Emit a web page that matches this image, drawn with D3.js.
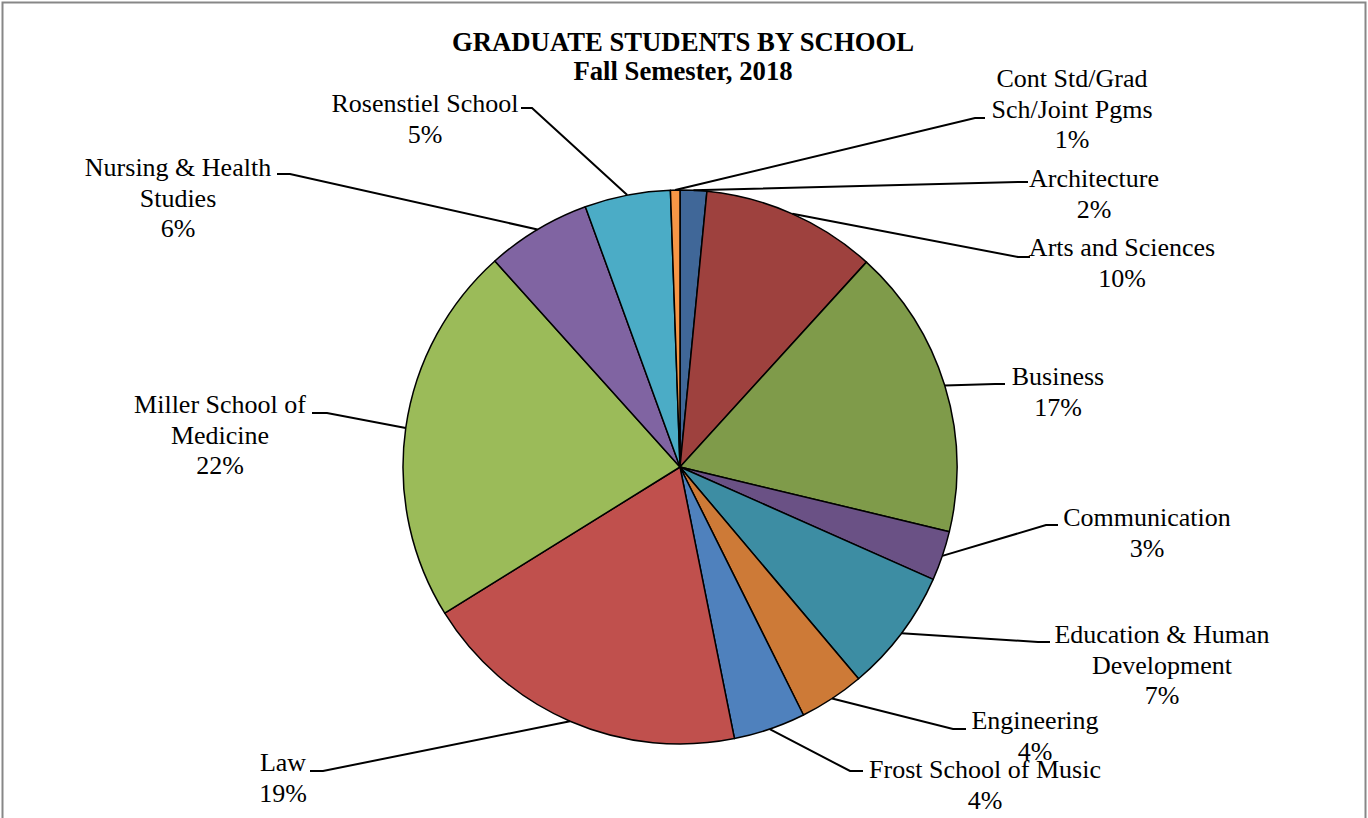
<!DOCTYPE html>
<html>
<head>
  <script src="https://d3js.org/d3.v7.min.js"></script>
  <style>
    body { margin: 0; background: #fff; }
    text { font-family: "Times New Roman", "Liberation Serif", serif; fill: #000; }
  </style>
</head>
<body>
<div id="vis"></div>

<script>
// data (share of graduate students, %)
const schools = ["Architecture", "Arts and Sciences", "Business", "Communication",
  "Education & Human Development", "Engineering", "Frost School of Music", "Law",
  "Miller School of Medicine", "Nursing & Health Studies", "Rosenstiel School",
  "Cont Std/Grad Sch/Joint Pgms"];
const shares = [1.55, 10.2, 17.0, 2.9, 7.2, 3.8, 4.2, 19.3, 22.2, 6.1, 5.0, 0.55];
const labelLines = [["Architecture"], ["Arts and Sciences"], ["Business"], ["Communication"],
  ["Education & Human", "Development"], ["Engineering"], ["Frost School of Music"], ["Law"],
  ["Miller School of", "Medicine"], ["Nursing & Health", "Studies"], ["Rosenstiel School"],
  ["Cont Std/Grad", "Sch/Joint Pgms"]];
const sliceColors = ["#406798", "#9e413e", "#7f9b4a", "#6a5185", "#3d8da3", "#cd7a37",
  "#4f81bd", "#c0504d", "#9bbb59", "#8064a2", "#4bacc6", "#f79646"];

// label placement: text centre, first baseline, end of the short horizontal leader, knee x
const labelLayout = [
  { cx: 1094, y: 187, sx: 1028, sy: 182, kx: 1018 },
  { cx: 1122, y: 256, sx: 1030, sy: 257, kx: 1018 },
  { cx: 1058, y: 385, sx: 1005, sy: 384, kx: 995 },
  { cx: 1147, y: 526, sx: 1058, sy: 525, kx: 1046 },
  { cx: 1162, y: 643, sx: 1050, sy: 642, kx: 1038 },
  { cx: 1035, y: 729, sx: 966, sy: 729, kx: 953 },
  { cx: 985, y: 778, sx: 863, sy: 771, kx: 850 },
  { cx: 283, y: 771, sx: 310, sy: 771, kx: 323 },
  { cx: 220, y: 413, sx: 312, sy: 413, kx: 327 },
  { cx: 178, y: 176, sx: 277, sy: 174, kx: 290 },
  { cx: 425, y: 112, sx: 521, sy: 108, kx: 532 },
  { cx: 1072, y: 87, sx: 985, sy: 118, kx: 975 }
];

const width = 1368;
const height = 818;
const centre = { x: 680, y: 467 };
const radius = 277;
const lineH = 30.5;

const data = schools.map((s, i) => ({ school: s, share: shares[i], lines: labelLines[i], pos: labelLayout[i] }));
const total = d3.sum(shares);

const svg = d3.select('#vis')
  .append('svg')
  .attr('width', width)
  .attr('height', height);

// frame
svg.append('rect')
  .attr('x', 2.5).attr('y', 2.5)
  .attr('width', width - 5).attr('height', height + 20)
  .attr('fill', 'none')
  .attr('stroke', '#878787')
  .attr('stroke-width', 2);

// title
const title = svg.append('text')
  .attr('text-anchor', 'middle')
  .style('font-weight', 'bold')
  .style('font-size', '26.7px');
title.append('tspan').attr('x', 683).attr('y', 51).text('GRADUATE STUDENTS BY SCHOOL');
title.append('tspan').attr('x', 683).attr('y', 80).text('Fall Semester, 2018');

const pie = d3.pie().sort(null).value(d => d.share);
const arcs = pie(data);

const arc = d3.arc().innerRadius(0).outerRadius(radius);
const rim = d3.arc().innerRadius(radius).outerRadius(radius);

const g = svg.append('g').attr('transform', `translate(${centre.x},${centre.y})`);

g.selectAll('path.slice')
  .data(arcs)
  .enter()
  .append('path')
  .attr('class', 'slice')
  .attr('d', arc)
  .attr('fill', (d, i) => sliceColors[i])
  .attr('stroke', '#000')
  .attr('stroke-width', 1.5)
  .attr('stroke-linejoin', 'round');

// leader lines
svg.selectAll('path.leader')
  .data(arcs)
  .enter()
  .append('path')
  .attr('class', 'leader')
  .attr('fill', 'none')
  .attr('stroke', '#000')
  .attr('stroke-width', 2)
  .attr('d', d => {
    const [px, py] = rim.centroid(d);
    const p = d.data.pos;
    return `M${px + centre.x},${py + centre.y}L${p.kx},${p.sy}L${p.sx},${p.sy}`;
  });

// labels
const labels = svg.selectAll('text.label')
  .data(arcs)
  .enter()
  .append('text')
  .attr('class', 'label')
  .attr('text-anchor', 'middle')
  .style('font-size', '26px');

labels.each(function(d) {
  const t = d3.select(this);
  const p = d.data.pos;
  const rows = d.data.lines.concat([Math.round(d.data.share / total * 100) + '%']);
  rows.forEach((r, i) => {
    t.append('tspan').attr('x', p.cx).attr('y', p.y + i * lineH).text(r);
  });
});
</script>
</body>
</html>
